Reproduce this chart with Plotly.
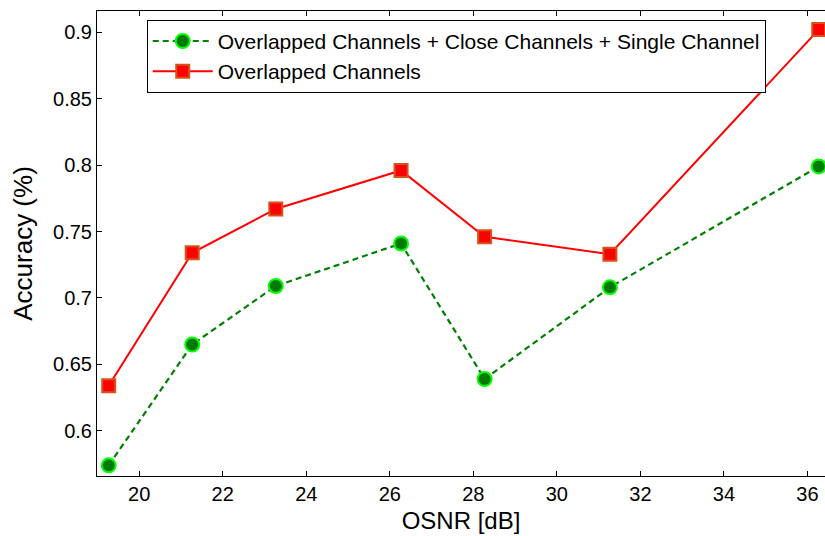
import plotly.graph_objects as go

# OSNR sweep (dB) and classification accuracy for the two test sets
osnr_db = [19.27, 21.27, 23.27, 26.27, 28.27, 31.27, 36.27]
acc_all = [0.574, 0.665, 0.709, 0.741, 0.639, 0.708, 0.799]
acc_overlap = [0.634, 0.734, 0.767, 0.796, 0.746, 0.733, 0.902]

name_all = "Overlapped Channels + Close Channels + Single Channel"
name_overlap = "Overlapped Channels"

x_ticks = [20, 22, 24, 26, 28, 30, 32, 34, 36]
y_ticks = [0.6, 0.65, 0.7, 0.75, 0.8, 0.85, 0.9]
y_tick_text = ["0.6", "0.65", "0.7", "0.75", "0.8", "0.85", "0.9"]

FONT = "Liberation Sans, Arial, sans-serif"

fig = go.Figure()
fig.add_trace(go.Scatter(
    x=osnr_db, y=acc_all, name=name_all, mode="lines+markers",
    line=dict(color="#008000", width=2.2, dash="6px,4px"),
    marker=dict(symbol="circle", size=14, color="#007a00",
                line=dict(color="#00ff00", width=2)),
    cliponaxis=False,
))
fig.add_trace(go.Scatter(
    x=osnr_db, y=acc_overlap, name=name_overlap, mode="lines+markers",
    line=dict(color="#ff0000", width=2),
    marker=dict(symbol="square", size=13, color="#ff0000",
                line=dict(color="#d95319", width=2)),
    cliponaxis=False,
))

fig.update_layout(
    width=825, height=536,
    margin=dict(l=97, r=0, t=11, b=60),
    paper_bgcolor="white", plot_bgcolor="white",
    font=dict(family=FONT, size=20, color="black"),
    showlegend=True,
    legend=dict(
        x=0.0683, y=0.981, xanchor="left", yanchor="top",
        bgcolor="white", bordercolor="black", borderwidth=1,
        font=dict(family=FONT, size=21, color="black"),
        itemwidth=60, tracegroupgap=0,
    ),
)
fig.update_xaxes(
    range=[18.99, 36.42], tickvals=x_ticks,
    showline=True, linecolor="black", linewidth=1, mirror="ticks",
    ticks="inside", ticklen=5, tickcolor="black", tickwidth=1,
    showgrid=False, zeroline=False,
    tickfont=dict(family=FONT, size=20),
    title=dict(text="OSNR [dB]", font=dict(family=FONT, size=24), standoff=8),
)
fig.update_yaxes(
    range=[0.566, 0.916], tickvals=y_ticks, ticktext=y_tick_text,
    showline=True, linecolor="black", linewidth=1, mirror=False,
    ticks="inside", ticklen=5, tickcolor="black", tickwidth=1,
    showgrid=False, zeroline=False,
    tickfont=dict(family=FONT, size=20),
    title=dict(text="Accuracy (%)", font=dict(family=FONT, size=26), standoff=12),
)

fig.write_html("out.html")
